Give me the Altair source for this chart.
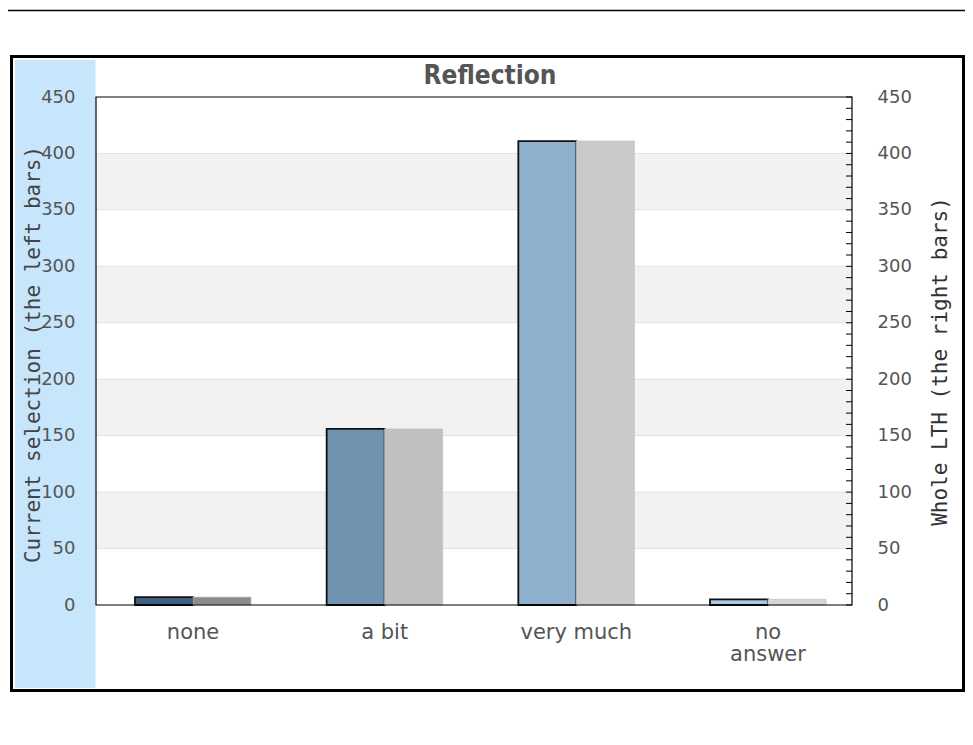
import altair as alt
import pandas as pd

categories = ["none", "a bit", "very much", "no answer"]
current = [7, 156, 411, 5]
whole = [7, 156, 411, 5]
left_colors = ["#3f5f7f", "#7293b0", "#8fb0cd", "#a8c8e6"]
right_colors = ["#8c8c8c", "#c0c0c0", "#cacaca", "#d6d6d6"]
band_lo = [50, 150, 250, 350]
band_hi = [100, 200, 300, 400]
grid_values = [50, 100, 150, 200, 250, 300, 350, 400]
label_values = [0, 50, 100, 150, 200, 250, 300, 350, 400, 450]
minor_ticks = list(range(0, 451, 10))
chart_title = "Reflection"

rows = []
keys = []
colors = []
for c, v, w, lc, rc in zip(categories, current, whole, left_colors, right_colors):
    rows.append({"cat": c, "series": "left", "value": v, "key": c + "|left"})
    rows.append({"cat": c, "series": "right", "value": w, "key": c + "|right"})
    keys += [c + "|left", c + "|right"]
    colors += [lc, rc]
bars_df = pd.DataFrame(rows)

W, H = 756, 508
yscale = alt.Scale(domain=[0, 450], nice=False, zero=True)
one = alt.Data(values=[{"a": 1}])

outer = alt.Chart(one).mark_rect(fill="white", stroke="black", strokeWidth=1.5, cornerRadius=8).encode(
    x=alt.value(-100), x2=alt.value(880), y=alt.value(-86.5), y2=alt.value(703))
frame = alt.Chart(one).mark_rect(fillOpacity=0, stroke="black", strokeWidth=3).encode(
    x=alt.value(-84.5), x2=alt.value(867.5), y=alt.value(-40.5), y2=alt.value(593.5))
sidebar = alt.Chart(one).mark_rect(fill="#c7e6fb").encode(
    x=alt.value(-81), x2=alt.value(-0.5), y=alt.value(-37), y2=alt.value(591))

title = alt.Chart(one).mark_text(
    text=chart_title, font="DejaVu Sans Condensed, DejaVu Sans", fontSize=26, fontWeight="bold",
    color="#555", align="center", baseline="alphabetic").encode(
    x=alt.value(W / 2 + 16), y=alt.value(-13))

bands = alt.Chart(pd.DataFrame({"lo": band_lo, "hi": band_hi})).mark_rect(fill="#f2f2f2").encode(
    x=alt.value(0), x2=alt.value("width"),
    y=alt.Y("lo:Q", scale=yscale, axis=None), y2="hi:Q")

grid = alt.Chart(pd.DataFrame({"g": grid_values})).mark_rule(color="#e2e2e2", strokeWidth=1).encode(
    x=alt.value(0), x2=alt.value("width"),
    y=alt.Y("g:Q", scale=yscale, axis=None))

bars = alt.Chart(bars_df).mark_bar().encode(
    x=alt.X("cat:N", sort=categories,
            scale=alt.Scale(paddingInner=0.3948, paddingOuter=0.1696, align=0.6),
            axis=alt.Axis(title=None, labelAngle=0, ticks=False, domain=False, labelPadding=16,
                          labelFont="DejaVu Sans", labelFontSize=21, labelColor="#555",
                          labelLineHeight=22, labelBaseline="top", zindex=1,
                          labelExpr="datum.value == 'no answer' ? ['no', 'answer'] : datum.value")),
    xOffset=alt.XOffset("series:N", sort=["left", "right"],
                        scale=alt.Scale(paddingInner=0, paddingOuter=0)),
    y=alt.Y("value:Q", scale=yscale,
            axis=alt.Axis(orient="left", title="Current selection (the left bars)",
                          titleFont="DejaVu Sans Mono", titleFontSize=21, titleFontWeight="normal",
                          titleColor="#444", titleAngle=270, titleX=-63, titleY=257,
                          titleAlign="center", titleBaseline="middle",
                          values=label_values, ticks=False, domain=False, grid=False,
                          labelFont="DejaVu Sans", labelFontSize=18, labelColor="#555",
                          labelPadding=21, zindex=1)),
    color=alt.Color("key:N", scale=alt.Scale(domain=keys, range=colors), legend=None),
    stroke=alt.Stroke("series:N", scale=alt.Scale(domain=["left", "right"], range=["#111111", "#c4c4c4"]), legend=None),
    strokeWidth=alt.StrokeWidth("series:N", scale=alt.Scale(domain=["left", "right"], range=[1.8, 0.8]), legend=None),
)

ticks = alt.Chart(pd.DataFrame({"t": minor_ticks})).mark_rule(color="black", strokeWidth=1).encode(
    x=alt.value(W - 6), x2=alt.value("width"),
    y=alt.Y("t:Q", scale=yscale,
            axis=alt.Axis(orient="right", title="Whole LTH (the right bars)",
                          titleFont="DejaVu Sans Mono", titleFontSize=21, titleFontWeight="normal",
                          titleColor="#333", titleAngle=270, titleX=88, titleY=264,
                          titleAlign="center", titleBaseline="middle",
                          values=label_values, ticks=False, domain=False, grid=False,
                          labelFont="DejaVu Sans", labelFontSize=18, labelColor="#555",
                          labelPadding=25, zindex=1)))

plot_frame = alt.Chart(one).mark_rect(fillOpacity=0, stroke="black", strokeWidth=1.2).encode(
    x=alt.value(0), x2=alt.value("width"), y=alt.value(0), y2=alt.value("height"))

chart = alt.layer(outer, frame, sidebar, bands, grid, bars, ticks, plot_frame, title).resolve_axis(
    y="independent"
).properties(
    width=W, height=H,
    autosize=alt.AutoSizeParams(type="none"),
    padding={"left": 88, "top": 89, "right": 113, "bottom": 131},
).configure_view(strokeWidth=0).configure(background="white")

chart.save("out.html", embed_options={"renderer": "svg", "actions": False})
